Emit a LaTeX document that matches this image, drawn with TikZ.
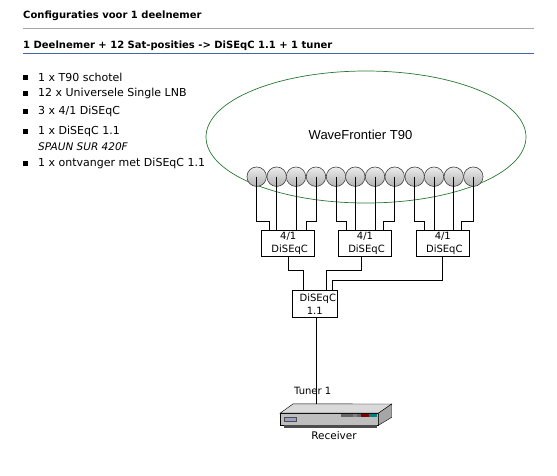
\documentclass[tikz,border=0pt]{standalone}
\usepackage{fontspec}
\setmainfont{DejaVu Sans}
\newfontfamily\arialfont{Liberation Sans}
\definecolor{dishgreen}{RGB}{40,120,50}
\definecolor{rulegray}{RGB}{165,165,165}
\definecolor{ruleblue}{RGB}{70,100,165}
\definecolor{recvgray}{RGB}{190,190,190}
\usetikzlibrary{shapes.geometric,positioning,calc}

\begin{document}
\begin{tikzpicture}[x=1pt, y=-1pt, font=\fontsize{10}{12.5}\selectfont,
    every node/.style={align=center, inner sep=0pt},
    heading/.style={anchor=west, font=\fontsize{10}{12}\selectfont\bfseries},
    item/.style={anchor=west, font=\fontsize{11}{13}\selectfont},
    bullet/.style={fill=black, minimum size=4.5pt},
    lnb/.style={circle, draw=black!75, line width=0.6pt, minimum size=19.5pt, top color=gray!15, bottom color=gray!60},
    switchbox/.style={draw=black, fill=white, line width=0.7pt, minimum width=53pt, minimum height=26.5pt},
    wire/.style={draw=black, line width=0.7pt}]
  \useasboundingbox (0,0) rectangle (557,475);
  \def\swlbl{4/1\\\hspace*{3pt}DiSEqC}

  % header
  \node[heading] (title) at (23,15.5) {Configuraties voor 1 deelnemer};
  \draw[rulegray, line width=0.8pt] (23,28.5) -- (534,28.5);
  \node[heading] (subtitle) at (23,45.5) {1 Deelnemer + 12 Sat-posities -> DiSEqC 1.1 + 1 tuner};
  \draw[ruleblue, line width=0.8pt] (23,53) -- (534,53);

  % parts list
  \foreach \i/\y/\lbl in {
    1/77.5/1 x T90 schotel,
    2/93.5/12 x Universele Single LNB,
    3/111.5/{3 x 4/1 DiSEqC},
    4/131.5/1 x DiSEqC 1.1,
    5/163.5/1 x ontvanger met DiSEqC 1.1}
  {
    \node[bullet] (bul\i) at (25.5,\y) {};
    \node[item] (item\i) at (38,\y) {\lbl};
  }
  \node[item, font=\fontsize{10.5}{12.5}\selectfont\itshape] (spaun) at (38,146.5) {SPAUN SUR 420F};

  % dish
  \node[ellipse, draw=dishgreen, line width=0.7pt, minimum width=320pt, minimum height=132pt] (dish) at (366,137) {};
  \node[font=\arialfont\fontsize{13}{15}\selectfont] (dishname) at (360.5,135) {WaveFrontier T90};

  % lnbs
  \foreach \i/\x in {1/256.7,2/276.7,3/296,4/316,5/336,6/355.3,7/375,8/394.7,9/414.7,10/434,11/453.7,12/473.3}
  {
    \node[lnb] (lnb\i) at (\x,176.7) {};
  }

  % switches
  \node[switchbox] (boxa) at (288.2,243.5) {\swlbl};
  \node[switchbox] (boxb) at (365,243.5) {\swlbl};
  \node[switchbox] (boxc) at (442.8,243.5) {\swlbl};
  \node[switchbox, minimum width=45pt] (boxd) at (314.8,304) {\hspace*{6pt}DiSEqC\\1.1};

  % lnb to switch
  \foreach \a/\b/\c/\d/\s in {1/2/3/4/a,5/6/7/8/b,9/10/11/12/c}
  {
    \draw[wire] (lnb\a.center) -- (lnb\a.center |- 0,221) -| ([xshift=-18.5pt]box\s.north);
    \draw[wire] (lnb\b.center) -- (lnb\b.center |- box\s.north);
    \draw[wire] (lnb\c.center) -- (lnb\c.center |- box\s.north);
    \draw[wire] (lnb\d.center) -- (lnb\d.center |- 0,221) -| ([xshift=18.5pt]box\s.north);
  }

  % switch to switch
  \draw[wire] (boxa.south) -- (boxa.south |- 0,270.7) -| ([xshift=-11.5pt]boxd.north);
  \draw[wire] ([xshift=-3.3pt]boxb.south) -- ([xshift=-3.3pt]boxb.south |- 0,270.7) -| ([xshift=11.5pt]boxd.north);
  \draw[wire] (boxc.south) -- (boxc.south |- 0,280.3) -| ([xshift=18pt]boxd.north);

  % receiver
  \node[draw=black, fill=recvgray, minimum width=98pt, minimum height=11.7pt] (recv) at (329.3,419.2) {};
  \filldraw[draw=black, fill=gray!30] (recv.north west) -- ++(13,-9.3) -- (391.7,404) -- (recv.north east) -- cycle;
  \filldraw[draw=black, fill=gray!70] (recv.north east) -- (391.7,404) -- (391.7,417.3) -- (recv.south east) -- cycle;
  \fill[black!70] ([xshift=4pt]recv.south west) rectangle ([xshift=-2pt,yshift=-2.5pt]recv.south east);
  \node[draw=black!70, fill=blue!25!gray!60, minimum width=12.5pt, minimum height=3.5pt, right=3.7pt of recv.west] (display) {};
  \foreach \i/\x/\col in {1/343/black!60,2/347/black!60,3/351/black!60,4/355/black!50,5/359/black!60,6/363/red!50!black,7/367/red!50!black,8/371/teal,9/375/teal}
  {
    \node[fill=\col, minimum width=3.2pt, minimum height=2.6pt] (led\i) at (\x,415.5) {};
  }
  \coordinate (recvtop) at (316.3,404);
  \draw[wire] (boxd.south) ++(1.5,0) -- (recvtop);
  \node (tuner) at (312.7,390.7) {Tuner 1};
  \node[font=\fontsize{10.5}{12.5}\selectfont] (recvname) at (334,435.7) {Receiver};
\end{tikzpicture}
\end{document}
